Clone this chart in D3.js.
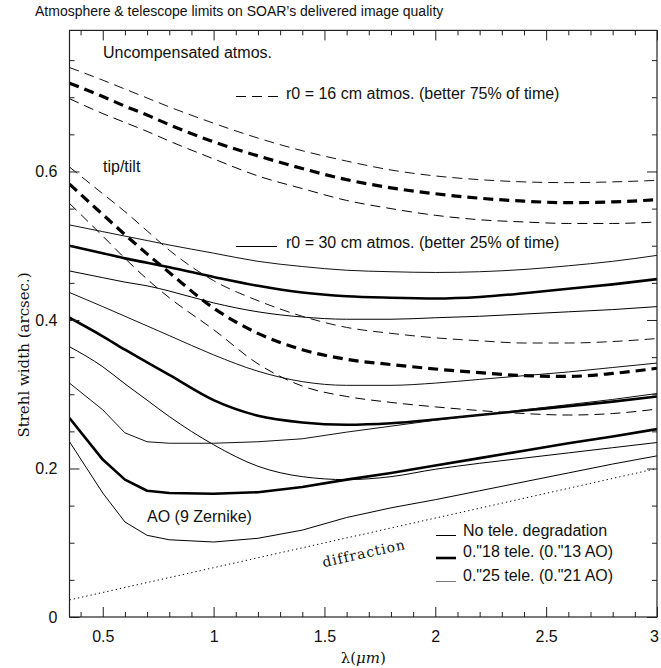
<!DOCTYPE html>
<html>
<head>
<meta charset="utf-8">
<script src="https://cdn.jsdelivr.net/npm/d3@7"></script>
<style>
  html, body { margin: 0; padding: 0; background: #fff; }
  svg { display: block; }
  .sans { font-family: "Liberation Sans", Arial, Helvetica, sans-serif; }
  .serif { font-family: "DejaVu Serif", "Liberation Serif", serif; }
</style>
</head>
<body>
<svg id="chart" width="661" height="668"></svg>
<script>
// Wavelength grid (microns) shared by all seeing curves
const lambda = [0.35, 0.5, 0.6, 0.7, 0.8, 1.0, 1.2, 1.4, 1.6, 1.8, 2.0, 2.2, 2.4, 2.6, 2.8, 3.0];

// r0 = 16 cm, uncompensated atmosphere (arcsec)
const unc16_t25 = [0.740, 0.723, 0.711, 0.699, 0.687, 0.665, 0.645, 0.628, 0.614, 0.602, 0.594, 0.589, 0.586, 0.585, 0.586, 0.588];
const unc16_t18 = [0.719, 0.701, 0.688, 0.676, 0.663, 0.640, 0.621, 0.604, 0.589, 0.578, 0.570, 0.564, 0.560, 0.558, 0.559, 0.562];
const unc16_none = [0.698, 0.678, 0.666, 0.654, 0.641, 0.617, 0.594, 0.577, 0.561, 0.550, 0.541, 0.535, 0.532, 0.530, 0.530, 0.532];

// r0 = 16 cm, tip/tilt correction
const tt16_t25 = [0.606, 0.570, 0.546, 0.520, 0.494, 0.453, 0.426, 0.405, 0.390, 0.382, 0.376, 0.372, 0.369, 0.369, 0.371, 0.375];
const tt16_t18 = [0.583, 0.542, 0.515, 0.489, 0.464, 0.416, 0.382, 0.360, 0.347, 0.340, 0.334, 0.329, 0.325, 0.324, 0.328, 0.335];
const tt16_none = [0.557, 0.513, 0.483, 0.455, 0.430, 0.387, 0.341, 0.311, 0.297, 0.289, 0.283, 0.278, 0.274, 0.272, 0.274, 0.280];

// r0 = 30 cm, uncompensated atmosphere
const unc30_t25 = [0.528, 0.519, 0.513, 0.507, 0.501, 0.490, 0.479, 0.472, 0.467, 0.465, 0.464, 0.465, 0.468, 0.473, 0.479, 0.487];
const unc30_t18 = [0.500, 0.490, 0.483, 0.477, 0.471, 0.458, 0.446, 0.437, 0.432, 0.430, 0.429, 0.431, 0.436, 0.442, 0.448, 0.455];
const unc30_none = [0.466, 0.457, 0.451, 0.446, 0.439, 0.423, 0.411, 0.404, 0.401, 0.401, 0.403, 0.405, 0.408, 0.411, 0.414, 0.418];

// r0 = 30 cm, tip/tilt correction
const tt30_t25 = [0.437, 0.418, 0.405, 0.392, 0.379, 0.353, 0.331, 0.317, 0.312, 0.312, 0.315, 0.320, 0.325, 0.330, 0.336, 0.342];
const tt30_t18 = [0.403, 0.378, 0.360, 0.343, 0.326, 0.292, 0.271, 0.262, 0.259, 0.261, 0.266, 0.272, 0.278, 0.284, 0.290, 0.297];
const tt30_none = [0.364, 0.337, 0.314, 0.292, 0.270, 0.232, 0.203, 0.189, 0.185, 0.189, 0.199, 0.207, 0.214, 0.221, 0.228, 0.235];

// r0 = 30 cm, adaptive optics (9 Zernike modes)
const ao30_t25 = [0.315, 0.279, 0.248, 0.236, 0.234, 0.234, 0.236, 0.240, 0.249, 0.257, 0.265, 0.272, 0.279, 0.286, 0.293, 0.301];
const ao30_t18 = [0.268, 0.212, 0.185, 0.170, 0.167, 0.166, 0.168, 0.175, 0.185, 0.194, 0.204, 0.214, 0.224, 0.234, 0.243, 0.253];
const ao30_none = [0.236, 0.167, 0.128, 0.110, 0.104, 0.101, 0.106, 0.117, 0.134, 0.147, 0.158, 0.170, 0.182, 0.194, 0.206, 0.217];

// Diffraction limit
const diffLambda = [0.35, 3.0];
const diffWidth = [0.023, 0.200];

// Axis ticks
const xMajor = [0.5, 1, 1.5, 2, 2.5, 3];
const xMajorLabels = ["0.5", "1", "1.5", "2", "2.5", "3"];
const yMajor = [0, 0.2, 0.4, 0.6];
const yMajorLabels = ["0", "0.2", "0.4", "0.6"];

const svg = d3.select("#chart");
const x = d3.scaleLinear().domain([0.35, 3]).range([69.5, 657]);
const y = d3.scaleLinear().domain([0, 0.79]).range([617, 30.4]);

const xMinor = d3.range(4, 31).map(d => d / 10).filter(d => !xMajor.some(m => Math.abs(m - d) < 1e-6));
const yMinor = d3.range(1, 16).map(d => d * 0.05).filter(d => !yMajor.some(m => Math.abs(m - d) < 1e-6));

// Line styles: thin = 0."25 tele or no degradation, thick = 0."18 tele
const styles = {
  thin25: { w: 1.0, dash: null, color: "#111" },
  thick18: { w: 2.6, dash: null, color: "#000" },
  thinNone: { w: 1.0, dash: null, color: "#000" },
  dThin25: { w: 1.0, dash: "10,6", color: "#111" },
  dThick18: { w: 3.2, dash: "10,6", color: "#000" },
  dThinNone: { w: 1.0, dash: "10,6", color: "#000" }
};

const series = [
  { v: unc16_t25, s: "dThin25" }, { v: unc16_t18, s: "dThick18" }, { v: unc16_none, s: "dThinNone" },
  { v: tt16_t25, s: "dThin25" }, { v: tt16_t18, s: "dThick18" }, { v: tt16_none, s: "dThinNone" },
  { v: unc30_t25, s: "thin25" }, { v: unc30_t18, s: "thick18" }, { v: unc30_none, s: "thinNone" },
  { v: tt30_t25, s: "thin25" }, { v: tt30_t18, s: "thick18" }, { v: tt30_none, s: "thinNone" },
  { v: ao30_t25, s: "thin25", lin: true }, { v: ao30_t18, s: "thick18", lin: true }, { v: ao30_none, s: "thinNone", lin: true }
];

const plot = svg.append("g");
svg.append("clipPath").attr("id", "clip").append("rect")
  .attr("x", x.range()[0]).attr("y", y.range()[1])
  .attr("width", x.range()[1] - x.range()[0]).attr("height", y.range()[0] - y.range()[1]);

const curves = plot.append("g").attr("clip-path", "url(#clip)");

series.forEach(sr => {
  const st = styles[sr.s];
  const gen = d3.line()
    .x((d, i) => x(lambda[i]))
    .y(d => y(d))
    .curve(sr.lin ? d3.curveLinear : d3.curveMonotoneX);
  curves.append("path")
    .attr("d", gen(sr.v))
    .attr("fill", "none")
    .attr("stroke", st.color)
    .attr("stroke-width", st.w)
    .attr("stroke-dasharray", st.dash)
    .attr("stroke-linejoin", "round");
});

// Diffraction limit (dotted)
curves.append("path")
  .attr("d", d3.line().x((d, i) => x(diffLambda[i])).y(d => y(d))(diffWidth))
  .attr("fill", "none").attr("stroke", "#000").attr("stroke-width", 1)
  .attr("stroke-dasharray", "1.3,3");

// Axes: ticks pointing inward on all four sides
function styleAxis(g) {
  g.select(".domain").remove();
  g.selectAll(".tick line").attr("stroke", "#222").attr("stroke-width", 1);
  g.selectAll("text").attr("class", "sans").attr("font-size", 16).attr("fill", "#111");
}
const x0 = x.range()[0], x1 = x.range()[1], y0 = y.range()[0], y1 = y.range()[1];

const xAxisG = svg.append("g").attr("transform", `translate(0,${y0})`)
  .call(d3.axisBottom(x).tickValues(xMajor).tickSize(-10).tickPadding(14)
    .tickFormat((d, i) => xMajorLabels[i])).call(styleAxis);
// keep the last label inside the page edge
xAxisG.selectAll(".tick text").filter(d => d === 3).attr("dx", -3);
svg.append("g").attr("transform", `translate(0,${y0})`)
  .call(d3.axisBottom(x).tickValues(xMinor).tickSize(-5).tickFormat("")).call(styleAxis);
svg.append("g").attr("transform", `translate(0,${y1})`)
  .call(d3.axisTop(x).tickValues(xMajor).tickSize(-10).tickFormat("")).call(styleAxis);
svg.append("g").attr("transform", `translate(0,${y1})`)
  .call(d3.axisTop(x).tickValues(xMinor).tickSize(-5).tickFormat("")).call(styleAxis);

svg.append("g").attr("transform", `translate(${x0},0)`)
  .call(d3.axisLeft(y).tickValues(yMajor).tickSize(-10).tickPadding(12)
    .tickFormat((d, i) => yMajorLabels[i])).call(styleAxis);
svg.append("g").attr("transform", `translate(${x0},0)`)
  .call(d3.axisLeft(y).tickValues(yMinor).tickSize(-5).tickFormat("")).call(styleAxis);
svg.append("g").attr("transform", `translate(${x1},0)`)
  .call(d3.axisRight(y).tickValues(yMajor).tickSize(-10).tickFormat("")).call(styleAxis);
svg.append("g").attr("transform", `translate(${x1},0)`)
  .call(d3.axisRight(y).tickValues(yMinor).tickSize(-5).tickFormat("")).call(styleAxis);

// Frame
svg.append("rect").attr("x", x0).attr("y", y1).attr("width", x1 - x0).attr("height", y0 - y1)
  .attr("fill", "none").attr("stroke", "#222").attr("stroke-width", 1.2);

// Title
svg.append("text").attr("class", "sans").attr("x", 35).attr("y", 16)
  .attr("font-size", 14).attr("fill", "#111")
  .text("Atmosphere & telescope limits on SOAR\u2019s delivered image quality");

// Axis titles
const xl = svg.append("text").attr("class", "serif").attr("x", (x0 + x1) / 2).attr("y", 663)
  .attr("text-anchor", "middle").attr("font-size", 15).attr("fill", "#111");
xl.append("tspan").text("\u03bb(");
xl.append("tspan").attr("font-style", "italic").text("\u03bcm");
xl.append("tspan").text(")");

svg.append("text").attr("class", "serif")
  .attr("transform", `translate(29,355) rotate(-90)`)
  .attr("text-anchor", "middle").attr("font-size", 15).attr("fill", "#111")
  .text("Strehl width (arcsec.)");

// In-plot annotations
function label(tx, ty, str, size) {
  svg.append("text").attr("class", "sans").attr("x", tx).attr("y", ty)
    .attr("font-size", size || 16).attr("fill", "#111").text(str);
}
label(103, 58, "Uncompensated atmos.");
label(286, 99, "r0 = 16 cm atmos. (better 75% of time)");
label(103, 172, "tip/tilt");
label(286, 248, "r0 = 30 cm atmos. (better 25% of time)");
label(147, 522, "AO (9 Zernike)");
label(463, 536, "No tele. degradation");
label(463, 557, "0.\"18 tele. (0.\"13 AO)");
label(463, 581, "0.\"25 tele. (0.\"21 AO)");

// Legend samples
function sample(xa, xb, yy, w, dash, color) {
  svg.append("line").attr("x1", xa).attr("x2", xb).attr("y1", yy).attr("y2", yy)
    .attr("stroke", color || "#000").attr("stroke-width", w).attr("stroke-dasharray", dash);
}
sample(236, 278, 96.5, 1, "10,6");
sample(236, 277, 246.5, 1, null);
sample(436, 456, 535.5, 1, null);
sample(436, 456, 558, 2.6, null);
sample(436, 456, 581.5, 1, null, "#777");

// Diffraction label along the dotted line
svg.append("text").attr("class", "serif")
  .attr("transform", "translate(365,558) rotate(-12.6)")
  .attr("text-anchor", "middle").attr("font-size", 14).attr("letter-spacing", 1)
  .attr("fill", "#111").text("diffraction");
</script>
</body>
</html>
